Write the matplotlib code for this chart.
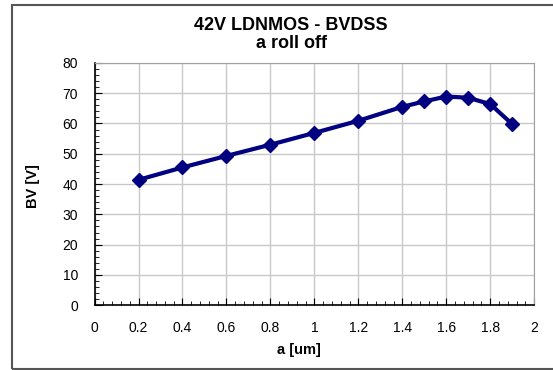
import matplotlib
matplotlib.use('Agg')
import matplotlib.pyplot as plt
from matplotlib.patches import Rectangle
from matplotlib.ticker import MultipleLocator

# Data
a_um = [0.2, 0.4, 0.6, 0.8, 1.0, 1.2, 1.4, 1.5, 1.6, 1.7, 1.8, 1.9]
bv = [41.4, 45.5, 49.3, 53.0, 56.9, 60.9, 65.5, 67.3, 68.9, 68.5, 66.4, 59.8]
x_ticks = [0, 0.2, 0.4, 0.6, 0.8, 1, 1.2, 1.4, 1.6, 1.8, 2]
x_tick_labels = ['0', '0.2', '0.4', '0.6', '0.8', '1', '1.2', '1.4', '1.6', '1.8', '2']
y_ticks = [0, 10, 20, 30, 40, 50, 60, 70, 80]

plt.rcParams['font.family'] = ['Liberation Sans', 'DejaVu Sans']

fig = plt.figure(figsize=(5.53, 3.70), dpi=100)
ax = fig.add_axes([0.171, 0.175, 0.795, 0.655])

# outer chart border (right side runs off the image)
fig.patches.append(Rectangle((12 / 553, 1 / 370), 1.2, 364 / 370, transform=fig.transFigure,
                             fill=False, edgecolor='#555555', linewidth=1.5))

ax.plot(a_um, bv, color='#000080', linewidth=3, marker='D', markersize=7, zorder=3)

ax.set_xlim(0, 2)
ax.set_ylim(0, 80)
ax.set_xticks(x_ticks)
ax.set_xticklabels(x_tick_labels)
ax.set_yticks(y_ticks)
ax.xaxis.set_minor_locator(MultipleLocator(0.04))
ax.yaxis.set_minor_locator(MultipleLocator(2))
ax.grid(True, which='major', color='#c8c8c8', linewidth=1)
ax.set_axisbelow(True)

ax.tick_params(which='both', direction='in', labelsize=10, colors='black')
ax.tick_params(which='major', length=5)
ax.tick_params(which='minor', length=3)
ax.tick_params(axis='x', pad=11)
ax.tick_params(axis='y', pad=12)

ax.spines['top'].set_color('#a0a0a0')
ax.spines['right'].set_color('#a0a0a0')
ax.spines['left'].set_linewidth(1.2)
ax.spines['bottom'].set_linewidth(1.2)

ax.set_xlabel('a [um]', fontsize=10.5, fontweight='bold')
ax.set_ylabel('BV [V]', fontsize=10.5, fontweight='bold')
ax.xaxis.set_label_coords(0.465, -0.155)
ax.yaxis.set_label_coords(-0.1245, 0.49)

fig.text(291 / 553, 1 - 25 / 370, '42V LDNMOS - BVDSS', ha='center', va='center', fontsize=13, fontweight='bold')
fig.text(291 / 553, 1 - 43 / 370, 'a roll off', ha='center', va='center', fontsize=13, fontweight='bold')

fig.savefig('out.png', dpi=100)
